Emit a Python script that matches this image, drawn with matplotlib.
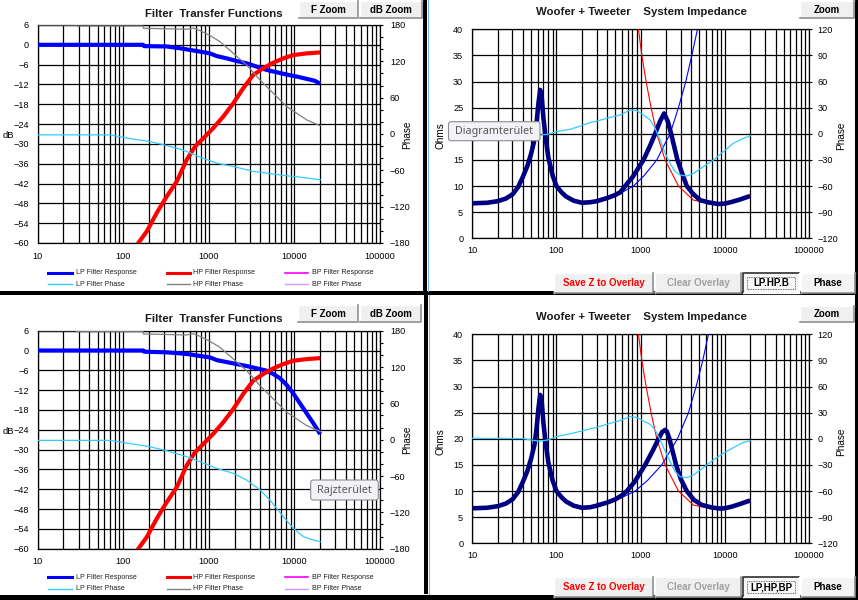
import numpy as np
import matplotlib
matplotlib.use("Agg")
import matplotlib.pyplot as plt
from matplotlib.ticker import FixedLocator, LogLocator, NullFormatter, FixedFormatter, MultipleLocator
from matplotlib.patches import Rectangle, FancyBboxPatch
from matplotlib.lines import Line2D

plt.rcParams['font.family'] = ['Liberation Sans', 'DejaVu Sans']

# ---------------- data: filter transfer functions ----------------
lp_resp_f_a = [10, 171, 175, 321, 460, 602, 788, 1031, 1234, 1614, 2112, 2764, 3617, 4734, 6196, 8108, 10610, 13885, 17376, 20000]
lp_resp_db_a = [0, 0, -0.4, -0.5, -1.05, -1.55, -2.05, -2.6, -3.4, -4.1, -4.9, -5.6, -6.6, -7.6, -8.3, -9.0, -9.6, -10.3, -10.9, -11.8]

lp_resp_f_b = [10, 171, 175, 321, 460, 602, 788, 1031, 1234, 1614, 2112, 2764, 3617, 4734, 5665, 6777, 8108, 9704, 11613, 13885, 16606, 20000]
lp_resp_db_b = [0, 0, -0.35, -0.55, -0.86, -1.16, -1.66, -2.07, -2.9, -3.5, -4.1, -4.7, -5.4, -6.1, -7.1, -8.4, -10.4, -13.0, -16.0, -19.0, -22.0, -25.3]

hp_resp_f = [100, 150, 188, 246, 322, 421, 551, 689, 861, 1127, 1476, 1932, 2528, 3307, 4328, 5665, 7414, 9704, 13890, 20000]
hp_resp_db = [-67.5, -60, -56.5, -50.9, -45.9, -41.4, -34.8, -30.8, -28.3, -25.2, -21.7, -17.7, -13.1, -9.1, -7.1, -5.4, -4.1, -3.1, -2.6, -2.3]

lp_phase_f_a = [10, 70, 131, 205, 321, 460, 550, 788, 1234, 1931, 3307, 4734, 7413, 11606, 20000]
lp_phase_deg_a = [-1.4, -1.4, -8.5, -12.4, -19, -25, -28.9, -38.2, -48.1, -53.6, -61.8, -64.6, -68.4, -71.2, -75.6]

lp_phase_f_b = [10, 70, 131, 205, 321, 550, 788, 1234, 1931, 2764, 3958, 5178, 6196, 7413, 9704, 12695, 16606, 20000]
lp_phase_deg_b = [-1.1, -1.1, -7.2, -11.6, -18.2, -28, -36.3, -47.3, -55.6, -66.6, -83, -99.6, -113.4, -127, -146.4, -160, -165.7, -168.4]

hp_phase_f = [10, 28, 28.5, 170, 172, 550, 658, 788, 1031, 1349, 1931, 2764, 3957, 5665, 8108, 10610, 13885, 20000]
hp_phase_deg = [180, 180, 178.4, 178.4, 174.6, 173, 175, 170.7, 162.5, 152.5, 133.3, 114, 89.3, 67.3, 45.4, 34.4, 23.4, 13.5]

# ---------------- data: system impedance ----------------
z_f_a = [10, 15, 20, 25, 30, 35, 40, 45, 50, 55, 58, 61, 64, 67, 70, 74, 80, 90, 100, 115, 130, 160, 200,
         251, 300, 400, 500, 571, 655, 800, 1082, 1300, 1486, 1700, 1900, 2100, 2302, 2735, 3100, 3532,
         4200, 5079, 6500, 8394, 10000, 12000, 15000, 20000]
z_ohm_a = [6.7, 6.8, 7.1, 7.6, 8.4, 9.8, 11.8, 13.8, 16.2, 19.0, 22.0, 25.8, 28.4, 26.8, 23.0, 19.5, 15.5, 12.0, 10.0, 8.8, 8.0, 7.2, 6.8,
           6.9, 7.1, 7.7, 8.3, 8.8, 10.0, 11.7, 15.0, 17.8, 20.0, 22.4, 23.9, 22.4, 20.0, 15.0, 12.5, 10.0,
           8.5, 7.3, 6.85, 6.56, 6.65, 6.95, 7.4, 8.1]

z_f_b = [10, 15, 20, 25, 30, 35, 40, 45, 50, 55, 58, 61, 64, 67, 70, 74, 80, 90, 100, 115, 130, 160, 200,
         251, 300, 400, 500, 600, 686, 850, 1130, 1400, 1629, 1800, 1950, 2050, 2198, 2637, 3000, 3532,
         4300, 5325, 7000, 8770, 10000, 12000, 15000, 20000]
z_ohm_b = [6.7, 6.8, 7.1, 7.6, 8.4, 9.8, 11.8, 13.8, 16.2, 19.0, 22.0, 25.8, 28.4, 26.8, 23.0, 19.5, 15.5, 12.0, 10.0, 8.8, 8.0, 7.2, 6.8,
           6.9, 7.2, 7.8, 8.4, 9.2, 10.0, 11.8, 15.0, 17.8, 20.0, 21.3, 21.7, 21.4, 20.0, 15.0, 12.3, 10.0,
           8.3, 7.35, 6.85, 6.65, 6.7, 7.0, 7.5, 8.2]

woofer_f_a = [300, 400, 571, 822, 1100, 1556, 1900, 2239, 2812, 3436, 4053, 4730, 5500]
woofer_ohm_a = [7.1, 7.7, 8.6, 10.0, 12.0, 15.0, 17.8, 20.0, 25.0, 30.0, 35.0, 40.0, 47.0]

woofer_f_b = [300, 400, 571, 861, 1200, 1784, 2735, 3700, 4560, 5470, 6383, 7000]
woofer_ohm_b = [7.2, 7.8, 8.6, 10.0, 12.0, 15.0, 20.0, 25.0, 30.0, 35.0, 40.0, 44.0]

tweeter_f = [800, 942, 1033, 1161, 1330, 1556, 1954, 2812, 4238, 5800, 8394, 10000, 12000, 15000, 20000]
tweeter_ohm = [52, 40, 35, 30, 25, 20, 15, 10, 7.3, 6.9, 6.56, 6.65, 6.95, 7.4, 8.1]

zphase_f_a = [10, 20, 40, 50, 64, 80, 100, 150, 200, 251, 300, 434, 571, 750, 900, 1082, 1297, 1486, 1703, 1954,
              2239, 2570, 2946, 3532, 4238, 5572, 7317, 9610, 12640, 16600, 20000]
zphase_deg_a = [0.5, 0.5, 0.3, -0.5, -1.5, -0.5, 2.5, 5.5, 9.5, 13.0, 14.5, 18.9, 21.6, 27.3, 26.6, 21.6, 15.8, 6.3, -7.1, -22.4,
                -33.9, -43.5, -47.3, -48.5, -45.4, -37.7, -30.1, -20.5, -10.9, -5.2, -2.5]

zphase_f_b = [10, 20, 40, 50, 63, 79, 99, 150, 200, 251, 300, 434, 571, 750, 900, 1082, 1297, 1486, 1703, 1954,
              2239, 2570, 2946, 3532, 4238, 5572, 7317, 9610, 12640, 16600, 20000]
zphase_deg_b = [0.5, 0.5, 0.2, -1.3, -2.9, -1.3, 2.5, 6.0, 9.0, 11.5, 13.0, 17.8, 21.0, 25.4, 24.6, 20.4, 16.6, 10.1, -1.4, -14.0,
                -26.3, -37.7, -43.5, -44.6, -41.6, -33.1, -24.3, -16.7, -10.2, -4.1, -2.1]

freq_ticks = [10, 100, 1000, 10000, 100000]
freq_labels = ['10', '100', '1000', '10000', '100000']
db_ticks = list(range(-60, 7, 6))
fphase_ticks = list(range(-180, 181, 60))
ohm_ticks = list(range(0, 41, 5))
zphase_ticks = list(range(-120, 121, 30))

legend_labels = ['LP Filter Response', 'HP Filter Response', 'BP Filter Response',
                 'LP Filter Phase', 'HP Filter Phase', 'BP Filter Phase']

# ---------------- styles ----------------
W, H = 858, 600
C_LP = '#0000FF'
C_HP = '#FF0000'
C_BP = '#FF00FF'
C_LPP = '#33CCFF'
C_HPP = '#808080'
C_BPP = '#CC99FF'
C_Z = '#000080'
TICK_FS = 6.6

fig = plt.figure(figsize=(W / 100, H / 100), dpi=100)
fig.patch.set_facecolor('white')


def px_axes(x0, y0, x1, y1, **kw):
    return fig.add_axes([x0 / W, 1 - y1 / H, (x1 - x0) / W, (y1 - y0) / H], **kw)


def style_freq_axis(ax, xpad):
    ax.set_xlim(10, 100000)
    ax.xaxis.set_major_locator(FixedLocator(freq_ticks))
    ax.xaxis.set_major_formatter(FixedFormatter(freq_labels))
    ax.xaxis.set_minor_locator(LogLocator(base=10, subs=np.arange(2, 10)))
    ax.xaxis.set_minor_formatter(NullFormatter())
    ax.tick_params(axis='x', which='both', length=0, pad=xpad, labelsize=TICK_FS)
    ax.grid(True, axis='x', which='both', color='black', lw=0.9)
    ax.grid(True, axis='y', which='major', color='black', lw=0.9)
    for s in ax.spines.values():
        s.set_color('black')
        s.set_linewidth(0.9)
    ax.set_axisbelow(True)


def filter_panel(y0, y1, lp_f, lp_db, lpp_f, lpp_deg):
    ax = px_axes(37.7, y0, 380, y1)
    ax.set_xscale('log')
    ax2 = ax.twinx()
    ax.set_ylim(-60, 6)
    ax.set_yticks(db_ticks)
    ax.tick_params(axis='y', length=0, pad=6.2, labelsize=TICK_FS)
    ax.plot(lp_f, lp_db, color=C_LP, lw=3.0, solid_capstyle='butt', zorder=3)
    ax.plot(hp_resp_f, hp_resp_db, color=C_HP, lw=3.0, solid_capstyle='butt', zorder=3)
    ax2.set_ylim(-180, 180)
    ax2.set_yticks(fphase_ticks)
    ax2.yaxis.set_minor_locator(MultipleLocator(20))
    ax2.tick_params(axis='y', which='major', length=2.5, width=0.8, pad=4.6, labelsize=TICK_FS, direction='out')
    ax2.tick_params(axis='y', which='minor', length=2.0, width=0.8, direction='out')
    for s in ax2.spines.values():
        s.set_visible(False)
    ax2.plot(lpp_f, lpp_deg, color=C_LPP, lw=0.9)
    ax2.plot(hp_phase_f, hp_phase_deg, color=C_HPP, lw=0.9)
    style_freq_axis(ax, 6.2)
    return ax, ax2


def imp_panel(y0, y1, zf, zv, wf, wv, pf, pv):
    ax = px_axes(472.3, y0, 809, y1)
    ax.set_xscale('log')
    ax2 = ax.twinx()
    ax.set_ylim(0, 40)
    ax.set_yticks(ohm_ticks)
    ax.tick_params(axis='y', length=0, pad=6.5, labelsize=TICK_FS)
    ax.plot(wf, wv, color=C_LP, lw=0.8, zorder=3)
    ax.plot(tweeter_f, tweeter_ohm, color=C_HP, lw=0.8, zorder=3)
    ax.plot(zf, zv, color=C_Z, lw=3.3, zorder=4, solid_capstyle='butt')
    ax2.set_ylim(-120, 120)
    ax2.set_yticks(zphase_ticks)
    ax2.tick_params(axis='y', length=2.5, width=0.8, pad=3.5, labelsize=TICK_FS, direction='out')
    for s in ax2.spines.values():
        s.set_visible(False)
    ax2.plot(pf, pv, color=C_LPP, lw=0.9)
    style_freq_axis(ax, 5.2)
    return ax, ax2


filter_panel(25, 243, lp_resp_f_a, lp_resp_db_a, lp_phase_f_a, lp_phase_deg_a)
filter_panel(330.7, 548.7, lp_resp_f_b, lp_resp_db_b, lp_phase_f_b, lp_phase_deg_b)
imp_panel(29.3, 238.3, z_f_a, z_ohm_a, woofer_f_a, woofer_ohm_a, zphase_f_a, zphase_deg_a)
imp_panel(334.3, 543.3, z_f_b, z_ohm_b, woofer_f_b, woofer_ohm_b, zphase_f_b, zphase_deg_b)

# ---------------- overlay (pixel coordinates) ----------------
ov = fig.add_axes([0, 0, 1, 1], zorder=20)
ov.set_xlim(0, W)
ov.set_ylim(H, 0)
ov.axis('off')
ov.patch.set_visible(False)

# separators / frame
ov.add_patch(Rectangle((0, 290.7), W, 4.0, color='black', lw=0))
ov.add_patch(Rectangle((423.3, 0), 4.0, 291, color='black', lw=0))
ov.add_patch(Rectangle((424.0, 294), 4.0, 300, color='black', lw=0))
ov.add_line(Line2D([428.3, 428.3], [0, 290.7], color='#7fb5ea', lw=0.8))
ov.add_line(Line2D([428.8, 428.8], [295, 594], color='#7fb5ea', lw=0.8))
ov.add_patch(Rectangle((0, 594.5), W, 5.5, color='black', lw=0))
ov.add_patch(Rectangle((855.3, 0), 3.0, H, color='black', lw=0))

# titles
for yy in (14, 319):
    ov.text(214, yy, 'Filter  Transfer Functions', ha='center', va='center', fontsize=8.2,
            fontweight='bold', color='#1a1a1a')
for yy in (11.7, 316.7):
    ov.text(641.7, yy, 'Woofer + Tweeter    System Impedance', ha='center', va='center', fontsize=8.2,
            fontweight='bold', color='#1a1a1a')

# axis titles
for yy in (135.5, 431.5):
    ov.text(8.5, yy, 'dB', ha='center', va='center', fontsize=6.8)
for yy in (135, 440):
    ov.text(407.5, yy, 'Phase', ha='center', va='center', fontsize=7.2, rotation=90)
for yy in (136, 441.7):
    ov.text(440.5, yy, 'Ohms', ha='center', va='center', fontsize=7.2, rotation=90)
    ov.text(841, yy, 'Phase', ha='center', va='center', fontsize=7.2, rotation=90)


def button(x0, y0, x1, y1, label, color='black', pressed=False, fs=7.0, face='#f0f0f0'):
    ov.add_patch(Rectangle((x0, y0), x1 - x0, y1 - y0, facecolor=face, edgecolor='none', lw=0))
    if pressed:
        ov.add_line(Line2D([x0, x0, x1], [y1, y0, y0], color='#303030', lw=1.2))
        ov.add_line(Line2D([x0, x1, x1], [y1, y1, y0], color='#ffffff', lw=1.0))
        ov.add_patch(Rectangle((x0 + 4, y0 + 4), x1 - x0 - 8, y1 - y0 - 8, facecolor='none',
                               edgecolor='#404040', lw=0.6, ls=(0, (1, 1))))
    else:
        ov.add_line(Line2D([x0, x0, x1], [y1, y0, y0], color='#ffffff', lw=1.0))
        ov.add_line(Line2D([x0, x1, x1], [y1, y1, y0], color='#909090', lw=1.2))
    ov.text((x0 + x1) / 2, (y0 + y1) / 2 + 0.3, label, ha='center', va='center', fontsize=fs,
            fontweight='bold', color=color)


button(299, 1, 358, 17.5, 'F Zoom')
button(360, 1, 422, 17.5, 'dB Zoom')
button(298, 305, 358, 322, 'F Zoom')
button(360, 305, 421, 322, 'dB Zoom')
button(800, 1, 854, 17.5, 'Zoom')
button(800, 306, 854, 322, 'Zoom')

for (yb0, yb1, lbl) in ((273, 292.5, 'LP.HP.B'), (577, 596.5, 'LP,HP,BP')):
    button(554, yb0, 653, yb1, 'Save Z to Overlay', color='#ff0000')
    button(655, yb0, 741, yb1, 'Clear Overlay', color='#a0a0a0')
    button(743, yb0, 799, yb1, lbl, pressed=True, face='#f7f7f7')
    button(800.5, yb0, 855, yb1, 'Phase', face='#f4f4f4')

# legends
leg_colors = [C_LP, C_HP, C_BP, C_LPP, C_HPP, C_BPP]
leg_lw = [2.2, 2.2, 1.2, 1.0, 1.0, 1.0]
col_x = [(48, 72, 76), (167, 190, 193), (285, 308, 312)]
for base in (0, 304.5):
    for i, lab in enumerate(legend_labels):
        r, c = divmod(i, 3)
        y = base + (272.7 if r == 0 else 284.3)
        x0, x1, xt = col_x[c]
        ov.add_line(Line2D([x0, x1], [y, y], color=leg_colors[i], lw=leg_lw[i]))
        ov.text(xt, y, lab, ha='left', va='center', fontsize=5.1, color='#202020')

# tooltips
def tooltip(x0, y0, x1, y1, label):
    ov.add_patch(FancyBboxPatch((x0 + 1.5, y0 + 1.5), x1 - x0 - 3, y1 - y0 - 3,
                                boxstyle='round,pad=1.5,rounding_size=2.5',
                                facecolor='#f3f3f7', edgecolor='#8c8c8c', lw=0.8))
    ov.text((x0 + x1) / 2, (y0 + y1) / 2 + 0.3, label, ha='center', va='center', fontsize=7.8,
            color='#575757', family=['Noto Sans', 'DejaVu Sans'])


tooltip(448.5, 121.7, 540, 140.7, 'Diagramterület')
tooltip(310.7, 480, 378.3, 500, 'Rajzterület')

fig.savefig('out.png', dpi=100, facecolor='white')
